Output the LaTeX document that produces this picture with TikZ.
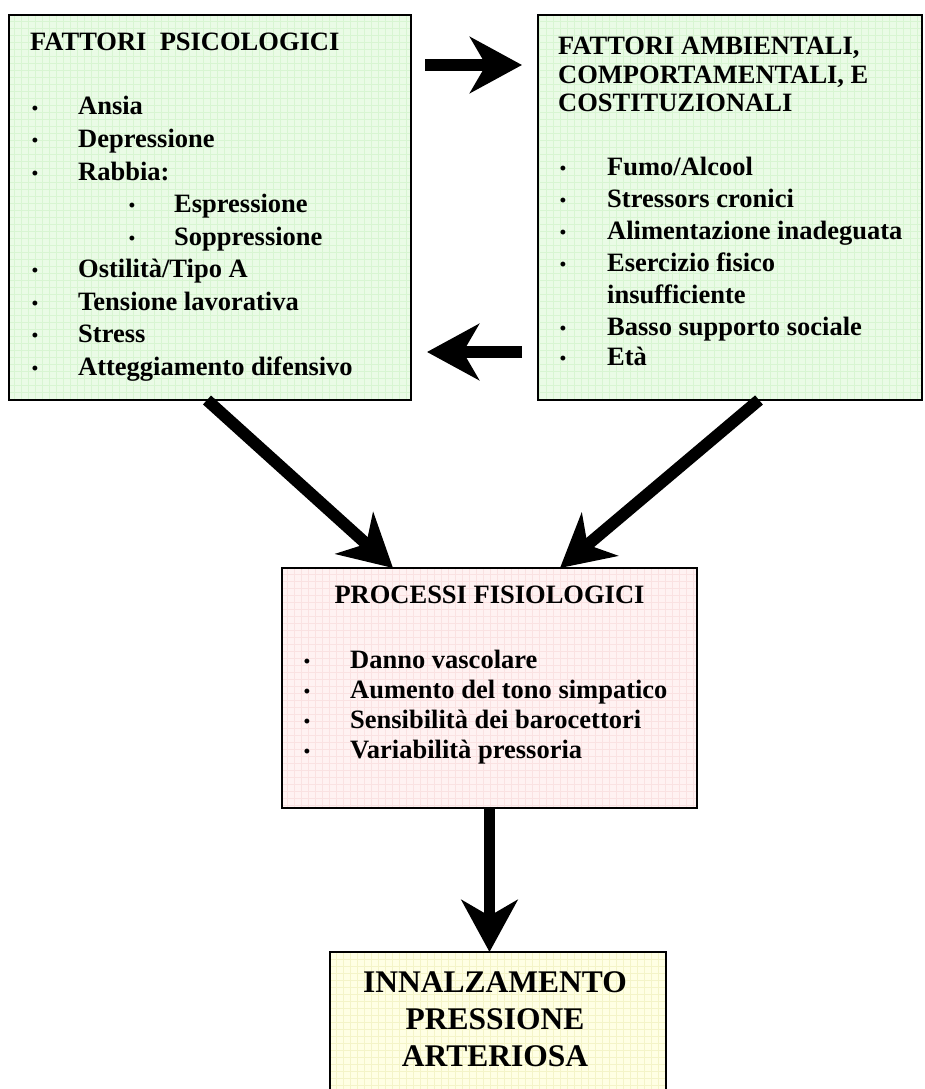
\documentclass[tikz,border=0pt]{standalone}
\usepackage{fontspec}
\setmainfont{Liberation Serif}
\usetikzlibrary{arrows.meta,calc}

\definecolor{greenfill}{RGB}{234,251,230}
\definecolor{greengrid}{RGB}{216,245,210}
\definecolor{pinkfill}{RGB}{255,242,242}
\definecolor{pinkgrid}{RGB}{250,226,226}
\definecolor{yellowfill}{RGB}{255,255,228}
\definecolor{yellowgrid}{RGB}{244,244,200}

\tikzset{
  box/.style={rectangle, inner sep=0pt, outer sep=0pt, fill=#1},
  frame/.style={draw=black, line width=2pt},
  txt/.style={anchor=base west, inner sep=0pt, font=\bfseries\fontsize{26.5}{32}\selectfont},
  ctxt/.style={anchor=base, inner sep=0pt, font=\bfseries\fontsize{26.5}{32}\selectfont},
  bigtxt/.style={anchor=base, inner sep=0pt, font=\bfseries\fontsize{31.5}{37}\selectfont},
  bul/.style={anchor=base, inner sep=0pt, font=\bfseries\fontsize{18}{20}\selectfont},
  bigarrow/.style={line width=12pt, -{Stealth[length=52pt,width=56pt,inset=16pt]}},
}

\begin{document}
\begin{tikzpicture}[x=1pt,y=-1pt]
\clip (0,0) rectangle (924,1089);
\fill[white] (0,0) rectangle (924,1089);

% the four boxes
\node[box=greenfill, minimum width=402pt, minimum height=385pt] (psi) at (210,207.5) {};
\node[box=greenfill, minimum width=384pt, minimum height=385pt] (amb) at (730,207.5) {};
\node[box=pinkfill, minimum width=415pt, minimum height=240pt] (proc) at (489.5,688) {};
\node[box=yellowfill, minimum width=336pt, minimum height=160pt] (ris) at (498,1032) {};

% faint woven texture inside the boxes
\foreach \b/\c in {psi/greengrid, amb/greengrid, proc/pinkgrid, ris/yellowgrid}{
  \begin{scope}
    \clip (\b.south west) rectangle (\b.north east);
    \draw[\c, line width=0.7pt] (\b.south west) grid[step=7pt] (\b.north east);
  \end{scope}
}

% outlines
\foreach \b in {psi, amb, proc, ris}{
  \draw[frame] (\b.south west) rectangle (\b.north east);
}

% psychological factors
\node[txt] (psiT) at (30,51) {FATTORI\ \ PSICOLOGICI};
\foreach \i/\t in {0/Ansia, 1/Depressione, 2/Rabbia:, 5/{Ostilità\slash Tipo A}, 6/Tensione lavorativa, 7/Stress, 8/Atteggiamento difensivo}{
  \node[bul] (psiB\i) at (35,{115+32.5*\i-1}) {•};
  \node[txt] (psiI\i) at (78,{115+32.5*\i}) {\t};
}
\foreach \i/\t in {3/Espressione, 4/Soppressione}{
  \node[bul] (psiB\i) at (132,{115+32.5*\i-1}) {•};
  \node[txt] (psiI\i) at (174,{115+32.5*\i}) {\t};
}

% environmental factors
\node[txt] (ambT1) at (558,55) {FATTORI AMBIENTALI,};
\node[txt] (ambT2) at (558,83.5) {COMPORTAMENTALI, E};
\node[txt] (ambT3) at (558,112) {COSTITUZIONALI};
\foreach \i/\t in {0/{Fumo\slash Alcool}, 1/Stressors cronici, 2/Alimentazione inadeguata, 3/Esercizio fisico, 5/Basso supporto sociale}{
  \node[bul] (ambB\i) at (563,{175+32*\i-1}) {•};
  \node[txt] (ambI\i) at (607,{175+32*\i}) {\t};
}
\node[txt] (ambI4) at (607,303) {insufficiente};
\node[bul] (ambB6) at (563,364) {•};
\node[txt] (ambI6) at (607,365) {Età};

% physiological processes
\node[ctxt] (procT) at (489.5,603) {PROCESSI FISIOLOGICI};
\foreach \i/\t in {0/Danno vascolare, 1/Aumento del tono simpatico, 2/Sensibilità dei barocettori, 3/Variabilità pressoria}{
  \node[bul] (procB\i) at (307,{668+30*\i-1}) {•};
  \node[txt] (procI\i) at (350,{668+30*\i}) {\t};
}

% outcome
\node[bigtxt] (risT1) at (495,992) {INNALZAMENTO};
\node[bigtxt] (risT2) at (495,1029) {PRESSIONE};
\node[bigtxt] (risT3) at (495,1066) {ARTERIOSA};

% connectors
\coordinate (topFrom) at (425,65);
\coordinate (topTo) at (522,65);
\coordinate (lowFrom) at (522,352);
\coordinate (lowTo) at (427,352);
\draw[bigarrow] (topFrom) -- (topTo);
\draw[bigarrow] (lowFrom) -- (lowTo);
\draw[bigarrow] ($(psi.south west)+(198,0)$) -- ($(proc.north west)+(111,0)$);
\draw[bigarrow] ($(amb.south west)+(221,0)$) -- ($(proc.north west)+(278,0)$);
\draw[bigarrow, line width=11pt] (proc.south) -- (proc.south |- ris.north);
\end{tikzpicture}
\end{document}
